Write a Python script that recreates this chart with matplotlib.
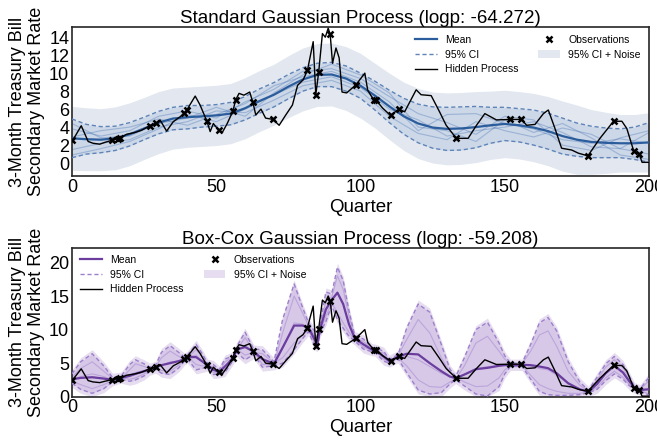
import numpy as np
import matplotlib
matplotlib.use("Agg")
import matplotlib.pyplot as plt
from matplotlib.lines import Line2D
from matplotlib.patches import Patch

plt.rcParams["font.family"] = ["Liberation Sans", "DejaVu Sans"]

# hidden process (quarter, rate)
hid_x = [0.3, 3.2, 5.6, 7.3, 9.6, 11.4, 14, 15.9, 16.8, 18.9, 21.8, 24.1, 27, 29, 30.5,
         32.8, 35.1, 37.5, 38.9, 39.8, 42.7, 44.4, 46.7, 47.9, 49, 50.8, 52.1, 53.8,
         55.8, 56.7, 57.9, 59.6, 61.6, 62.7, 63.7, 65.5, 67.1, 69.7, 71.8, 74.1, 76.4,
         78.2, 80.1, 81.6, 83.6, 84.5, 85.5, 86.8, 87.8, 88.8, 89.5, 90.3, 91.5, 92.6,
         93.6, 95.2, 98.4, 101.5, 102.5, 104.6, 105.4, 107.7, 110.4, 113.3, 115.3,
         119.3, 121, 124.5, 127.4, 129.7, 133.2, 137.3, 140.2, 143.1, 147.1, 151.8,
         155.8, 157.6, 160.5, 163.4, 165.1, 167.4, 169.7, 173.2, 175.5, 178.8, 183,
         187.7, 190.6, 192.3, 194.7, 196.6, 197.6, 200]
hid_y = [2.55, 4.15, 2.4, 2.2, 2.1, 2.3, 2.55, 2.7, 2.8, 3.2, 3.4, 3.65, 4.15, 4.4, 4.8,
         3.55, 4.6, 5.15, 5.55, 5.9, 7.45, 6.45, 4.7, 3.5, 4.4, 3.65, 3.4, 4.4,
         5.8, 7.0, 7.75, 7.55, 7.9, 6.75, 5.35, 6.0, 5.0, 4.85, 4.2, 5.35, 6.45,
         8.65, 9.25, 10.3, 13.5, 7.6, 10.1, 14.4, 14.0, 15.0, 14.3, 11.1, 12.8, 11.7,
         7.9, 7.8, 8.7, 10.0, 8.1, 7.0, 7.0, 6.1, 5.3, 6.0, 5.7,
         8.15, 7.6, 7.5, 5.7, 4.2, 2.75, 2.75, 4.2, 5.5, 4.8, 4.85,
         4.85, 4.2, 4.3, 5.5, 5.9, 3.85, 1.65, 1.45, 1.1, 0.8, 2.75,
         4.65, 4.65, 3.85, 1.35, 1.0, 0.08, 0.08]

obs_x = [0, 14, 15.9, 16.8, 27, 29, 38.9, 39.8, 46.7, 50.8, 55.8, 56.7, 62.7, 69.7,
         81.6, 84.5, 85.5, 89.5, 98.4, 104.6, 105.4, 110.4, 113.3, 133.2, 151.8,
         155.8, 178.8, 187.7, 194.7, 196.6]
obs_y = [2.55, 2.55, 2.7, 2.8, 4.15, 4.4, 5.55, 5.9, 4.7, 3.65, 5.8, 7.0, 6.75, 4.85,
         10.3, 7.6, 10.1, 14.3, 8.7, 7.0, 7.0, 5.3, 6.0, 2.75, 4.85,
         4.85, 0.8, 4.65, 1.35, 1.0]

# standard GP, every 5 quarters
gp_x = list(range(0, 201, 5))
gp_mean = [2.75, 2.65, 2.6, 2.75, 3.2, 3.85, 4.5, 4.95, 5.1, 5.2, 5.3, 5.5, 6.1, 6.9,
           7.6, 8.5, 9.3, 9.8, 9.85, 9.4, 8.6, 7.5, 6.3, 5.2, 4.4, 3.95, 3.8, 3.85,
           4.0, 4.2, 4.35, 4.2, 3.95, 3.55, 3.0, 2.6, 2.35, 2.25, 2.2, 2.2, 2.3]
gp_ci = [2.15, 1.65, 1.45, 1.35, 1.3, 1.25, 1.25, 1.25, 1.3, 1.2, 1.2, 1.25, 1.3, 1.35,
         1.35, 1.35, 1.3, 1.3, 1.35, 1.4, 1.4, 1.6, 1.8, 2.0, 2.15, 2.3, 2.4, 2.4,
         2.3, 2.0, 1.85, 1.85, 1.95, 2.0, 2.0, 1.85, 1.75, 1.65, 1.6, 1.8, 2.2]
gp_band = [3.55, 3.5, 3.45, 3.5, 3.5, 3.45, 3.45, 3.4, 3.35, 3.35, 3.35, 3.35, 3.4, 3.4,
           3.4, 3.45, 3.5, 3.5, 3.5, 3.55, 3.6, 3.6, 3.7, 3.8, 3.9, 3.95, 4.0, 4.0,
           3.95, 3.8, 3.75, 3.75, 3.8, 3.85, 3.9, 3.85, 3.6, 3.4, 3.2, 3.2, 3.3]

# a few GP sample paths, every 10 quarters
smp_x = list(range(0, 201, 10))
gp_samples = [
    [3.8, 3.0, 3.6, 5.2, 5.8, 5.0, 6.8, 8.2, 10.2, 10.5, 9.4, 7.4, 5.5, 4.5, 3.2, 5.2, 4.8, 2.0, 1.4, 2.8, 3.6],
    [1.5, 2.2, 2.6, 4.0, 4.6, 5.8, 5.6, 7.0, 8.6, 9.2, 8.0, 5.2, 3.3, 2.6, 4.6, 3.6, 2.9, 3.9, 3.2, 1.6, 1.0],
    [2.9, 3.6, 4.0, 4.9, 4.2, 5.4, 6.6, 8.6, 9.6, 10.2, 9.0, 6.8, 3.6, 5.4, 5.5, 4.4, 3.8, 2.6, 2.2, 2.7, 2.2],
    [0.9, 1.6, 2.4, 3.8, 5.4, 4.6, 6.0, 7.6, 9.0, 9.6, 8.4, 6.0, 4.8, 3.0, 3.6, 4.0, 4.6, 3.4, 1.8, 1.6, 3.4],
    [4.4, 2.8, 3.0, 4.4, 5.0, 6.2, 5.2, 7.8, 9.8, 11.0, 9.8, 7.8, 4.0, 3.6, 2.4, 4.8, 3.4, 4.4, 2.8, 0.9, 0.4],
]

# Box-Cox GP
bc_x = [0, 3, 7, 11, 14, 16, 17, 20, 22, 25, 27, 29, 31, 34, 37, 39, 40, 43, 45, 47, 49,
        51, 53, 56, 57, 60, 63, 66, 70, 73, 77, 80, 82, 84, 85, 86, 88, 90, 92, 94, 96,
        98, 101, 104, 105, 108, 110, 113, 116, 120, 124, 128, 131, 133, 136, 140, 144,
        148, 150, 152, 156, 159, 162, 165, 168, 172, 176, 179, 182, 185, 188, 191, 193,
        195, 197, 200]
bc_mean = [2.6, 2.8, 2.9, 2.7, 2.5, 2.75, 2.8, 3.1, 3.4, 3.8, 4.1, 4.4, 4.7, 5.0, 5.3,
           5.6, 5.9, 5.9, 5.3, 4.7, 4.0, 3.7, 4.5, 5.8, 7.0, 7.4, 6.7, 5.6, 4.9, 7.3,
           10.6, 10.6, 10.3, 8.6, 7.8, 10.1, 13.0, 14.4, 15.5, 13.8, 10.8, 8.7, 7.8,
           7.0, 6.95, 6.0, 5.3, 5.95, 6.4, 6.3, 5.0, 3.8, 3.0, 2.75, 3.3, 4.1, 4.3, 4.6,
           4.7, 4.75, 4.75, 4.7, 4.5, 4.25, 3.5, 2.0, 1.1, 0.75, 1.9, 3.5, 4.6, 3.6, 2.4,
           1.3, 1.0, 1.1]
bc_lo = [2.0, 1.1, 0.5, 1.2, 2.2, 2.5, 2.6, 2.3, 2.5, 3.1, 3.8, 4.1, 3.5, 3.3, 4.3,
         5.3, 5.6, 4.0, 4.2, 4.4, 3.3, 3.4, 3.6, 5.5, 6.6, 5.5, 6.3, 4.4, 4.6, 5.0,
         7.0, 8.7, 9.7, 7.6, 7.3, 9.5, 11.2, 13.6, 11.5, 10.2, 9.0, 8.3, 7.1,
         6.7, 6.65, 5.3, 5.0, 5.65, 3.6, 1.0, 0.4, 0.6, 1.9, 2.55, 1.6, 0.4, 0.1, 1.5,
         3.4, 4.5, 4.5, 2.6, 0.8, 0.3, 0.2, 0.2, 0.3, 0.6, 1.1, 2.4, 3.4, 2.6, 1.7,
         1.1, 0.8, 0.2]
bc_hi = [3.4, 5.2, 6.4, 4.6, 2.9, 3.0, 3.05, 4.8, 5.5, 4.9, 4.4, 4.7, 6.6, 7.6, 6.6,
         5.9, 6.2, 7.8, 6.5, 5.0, 4.8, 4.0, 5.6, 6.1, 7.4, 9.6, 7.1, 7.0, 5.2, 11.5,
         16.8, 13.2, 11.0, 9.8, 8.4, 10.8, 15.6, 15.3, 19.3, 17.3, 12.8, 9.1, 8.6,
         7.3, 7.25, 6.8, 5.6, 6.25, 10.2, 13.8, 12.6, 7.8, 4.1, 3.0, 5.8, 10.0, 11.1, 8.0,
         6.1, 5.0, 5.0, 7.8, 11.0, 11.8, 9.8, 5.2, 2.2, 0.95, 2.9, 4.9, 6.0, 4.8, 3.2,
         1.5, 1.2, 2.9]
bc_pad = 0.6
bc_samples = [
    [2.9, 4.2, 5.2, 3.8, 2.7, 2.8, 2.85, 2.6, 2.8, 3.4, 4.0, 4.5, 5.8, 6.8, 6.0, 5.7, 6.0,
     4.8, 4.6, 4.6, 4.4, 3.8, 4.1, 5.7, 6.9, 8.8, 6.8, 4.8, 4.8, 9.5, 15.0, 12.4, 10.5,
     9.2, 8.0, 10.4, 14.2, 14.8, 18.0, 16.0, 12.0, 8.9, 8.2, 7.1, 7.0, 5.6, 5.2, 6.1, 8.5,
     11.5, 9.5, 5.8, 3.6, 2.9, 2.2, 1.5, 1.6, 2.8, 4.0, 4.6, 4.9, 6.8, 9.2, 9.8, 7.5, 3.8,
     1.7, 0.85, 2.5, 4.4, 5.5, 4.3, 2.9, 1.4, 1.1, 2.4],
    [2.3, 1.8, 1.2, 1.8, 2.4, 2.7, 2.75, 4.0, 4.9, 4.5, 4.2, 4.3, 3.9, 3.8, 4.7, 5.5, 5.8,
     7.0, 6.0, 4.8, 3.6, 3.6, 5.2, 5.9, 7.1, 6.2, 6.6, 6.4, 5.0, 5.8, 8.0, 9.2, 10.0,
     8.0, 7.5, 9.8, 12.0, 14.0, 12.5, 11.0, 9.6, 8.5, 7.4, 6.9, 6.8, 6.5, 5.4, 5.8, 4.6,
     2.5, 1.5, 1.4, 2.2, 2.6, 4.6, 8.0, 9.0, 6.8, 5.6, 4.9, 4.6, 3.2, 1.8, 1.2, 0.8, 0.5,
     0.5, 0.7, 1.4, 2.8, 3.8, 2.9, 1.9, 1.2, 0.9, 0.4],
    [2.6, 3.0, 3.4, 3.0, 2.5, 2.75, 2.8, 3.3, 3.6, 3.9, 4.1, 4.4, 4.6, 5.2, 5.3, 5.6, 5.9,
     6.2, 5.4, 4.7, 4.0, 3.7, 4.5, 5.8, 7.0, 7.6, 6.7, 5.6, 4.9, 7.2, 11.0, 10.8, 10.3,
     8.6, 7.8, 10.1, 13.0, 14.4, 15.5, 13.8, 10.8, 8.7, 7.8, 7.0, 6.95, 6.0, 5.3, 5.95,
     6.0, 5.5, 4.5, 3.5, 3.0, 2.75, 3.3, 4.2, 4.5, 4.6, 4.7, 4.75, 4.75, 4.6, 4.2, 4.0,
     3.2, 1.9, 1.1, 0.75, 1.9, 3.5, 4.6, 3.6, 2.4, 1.3, 1.0, 1.2],
]

fig = plt.figure(figsize=(6.57, 4.41), dpi=100)
ax1 = fig.add_axes([72 / 657, 1 - 176 / 441, 577 / 657, 148.7 / 441])
ax2 = fig.add_axes([72 / 657, 1 - 396.7 / 441, 577 / 657, 149 / 441])


def draw(ax, x, lo, hi, blo, bhi, mean, samples, sx, c_mean, c_ci, c_band, c_smp, c_tint):
    ax.fill_between(x, blo, bhi, color=c_band, lw=0, zorder=1)
    ax.fill_between(x, lo, hi, color=c_tint, lw=0, zorder=1.5)
    for s in samples:
        ax.plot(sx, s, color=c_smp, lw=0.8, alpha=0.35, zorder=2)
    ax.plot(x, lo, color=c_ci, lw=1.0, ls=(0, (3, 2)), zorder=3)
    ax.plot(x, hi, color=c_ci, lw=1.0, ls=(0, (3, 2)), zorder=3)
    ax.plot(x, mean, color=c_mean, lw=1.6, zorder=4)
    ax.plot(hid_x, hid_y, color="black", lw=1.0, zorder=5)
    ax.plot(obs_x, obs_y, ls="none", marker="x", color="black", ms=4, mew=1.8, zorder=6)
    handles = [
        Line2D([], [], color=c_mean, lw=1.6),
        Line2D([], [], color=c_ci, lw=1.0, ls=(0, (3, 2))),
        Line2D([], [], color="black", lw=1.0),
        Line2D([], [], ls="none", marker="x", color="black", ms=4, mew=1.8),
        Patch(facecolor=c_band, edgecolor="none"),
    ]
    labels = ["Mean", "95% CI", "Hidden Process", "Observations", "95% CI + Noise"]
    return handles, labels


leg_kw = dict(ncol=2, loc="upper left", frameon=False, fontsize=7.5, borderpad=0,
              borderaxespad=0, handlelength=2.1, handletextpad=0.8, columnspacing=1.9,
              labelspacing=0.45)

gm = np.array(gp_mean)
gc = np.array(gp_ci)
gb = np.array(gp_band)
h, l = draw(ax1, gp_x, gm - gc, gm + gc, gm - gb, gm + gb, gm, gp_samples, smp_x,
            "#2b5c9c", "#5f84b8", "#e3e8f0", "#3f6fae", "#ccd7e8")
ax1.legend(h, l, bbox_to_anchor=(0.594, 0.948), **leg_kw)
ax1.set_ylim(-1.44, 15.1)
ax1.set_yticks(range(0, 15, 2))
ax1.set_title("Standard Gaussian Process (logp: -64.272)", fontsize=13.5, pad=2)

blo = np.array(bc_lo)
bhi = np.array(bc_hi)
h, l = draw(ax2, bc_x, blo, bhi, np.clip(blo - bc_pad, 0, None), bhi + bc_pad, bc_mean,
            bc_samples, bc_x, "#6a3d9e", "#9d80cc", "#e6ddf0", "#8a64c0", "#d7c8e8")
ax2.legend(h, l, bbox_to_anchor=(0.014, 0.951), **leg_kw)
ax2.set_ylim(0, 22.2)
ax2.set_yticks([0, 5, 10, 15, 20])
ax2.set_title("Box-Cox Gaussian Process (logp: -59.208)", fontsize=13.5, pad=1)

for ax in (ax1, ax2):
    ax.set_xlim(0, 200)
    ax.set_xticks([0, 50, 100, 150, 200])
    ax.tick_params(length=0, labelsize=13, pad=2)
    ax.set_xlabel("Quarter", fontsize=13.5, labelpad=2)
    ax.set_ylabel("3-Month Treasury Bill\nSecondary Market Rate", fontsize=13,
                  labelpad=3, linespacing=1.15)
    for sp in ax.spines.values():
        sp.set_color("#262626")
        sp.set_linewidth(1.2)

fig.savefig("out.png", dpi=100)
